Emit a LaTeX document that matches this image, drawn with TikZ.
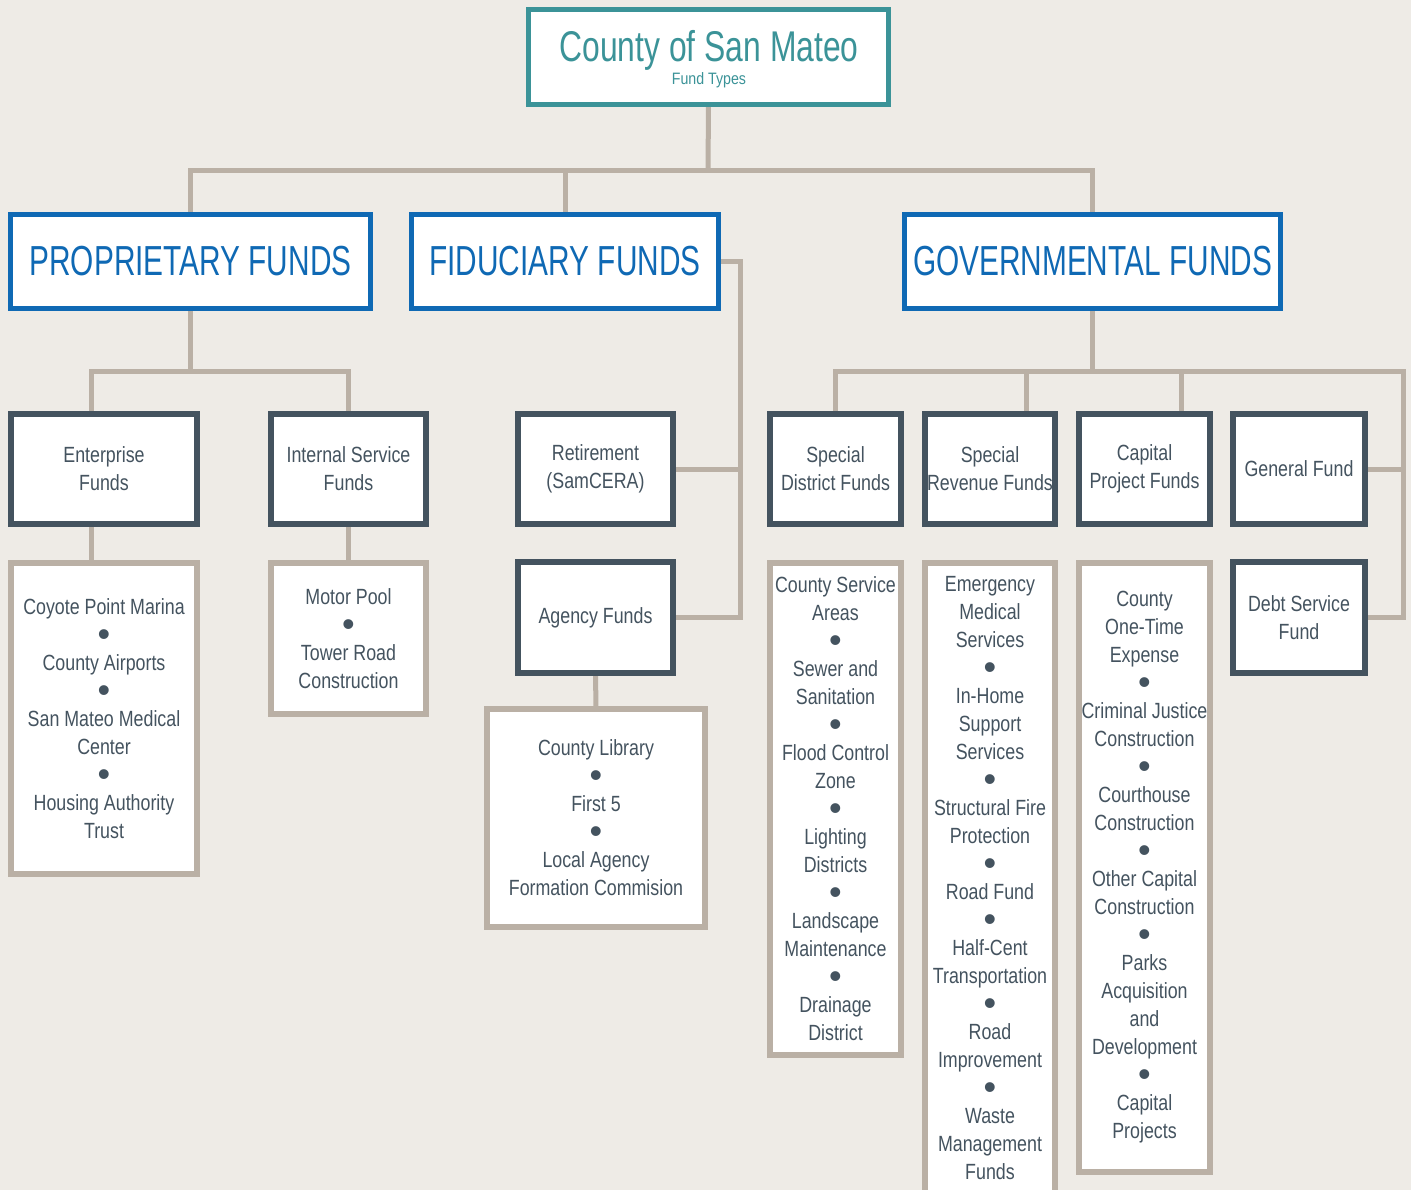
\documentclass[tikz,border=0pt]{standalone}
\usepackage{fontspec}
\newfontfamily\bodyf[FakeStretch=0.81]{Liberation Sans}
\newfontfamily\bigff[FakeStretch=0.71]{Liberation Sans}
\newfontfamily\ttlf[FakeStretch=0.74]{Liberation Sans}
\newfontfamily\subf[FakeStretch=0.86]{Liberation Sans}
\newfontfamily\plainf{Liberation Sans}
\newcommand\bulletdot{{\plainf\fontsize{36}{28}\selectfont\raisebox{-4pt}{•}}}
\definecolor{bgc}{HTML}{EEEBE6}
\definecolor{tealc}{HTML}{3B9398}
\definecolor{bluec}{HTML}{0F69B4}
\definecolor{slatec}{HTML}{44535F}
\definecolor{tanc}{HTML}{BAB0A5}
\pgfdeclarelayer{bgfill}
\pgfdeclarelayer{background}
\pgfsetlayers{bgfill,background,main}
\tikzset{
  topbox/.style={draw=tealc, line width=5pt, fill=white, inner sep=0pt, outer sep=0pt},
  bigbox/.style={draw=bluec, line width=5pt, fill=white, inner sep=0pt, outer sep=0pt,
    minimum height=94pt, text=bluec, font=\bigff\fontsize{42}{48}\selectfont},
  midbox/.style={draw=slatec, line width=6pt, fill=white, inner sep=0pt, outer sep=0pt,
    text=slatec, align=center, font=\bodyf\fontsize{22}{28}\selectfont},
  listbox/.style={draw=tanc, line width=6pt, fill=white, inner sep=0pt, outer sep=0pt,
    text=slatec, align=center, font=\bodyf\fontsize{22}{28}\selectfont},
  conn/.style={draw=tanc, line width=5pt},
  ttltext/.style={anchor=base, text=tealc, inner sep=0pt, font=\ttlf\fontsize{43}{48}\selectfont},
  subtext/.style={anchor=base, text=tealc, inner sep=0pt, font=\subf\fontsize{16.5}{19}\selectfont},
}
\begin{document}
\begin{tikzpicture}[x=1pt,y=-1pt]
\useasboundingbox (0,0) rectangle (1411,1190);
\begin{pgfonlayer}{bgfill}
\fill[bgc] (0,0) rectangle (1411,1190);
\end{pgfonlayer}

% top
\node[topbox, minimum width=360pt, minimum height=95pt] (top) at (708.5,57) {};
\node[ttltext] (ttl) at (709,62) {County of San Mateo};
\node[subtext] (sub) at (709,85) {Fund Types};

% level 2
\node[bigbox, minimum width=360pt] (prop) at (190.5,261.5) {PROPRIETARY FUNDS};
\node[bigbox, minimum width=307pt] (fid) at (565,261.5) {FIDUCIARY FUNDS};
\node[bigbox, minimum width=376pt] (gov) at (1092.5,261.5) {GOVERNMENTAL FUNDS};

% level 3
\node[midbox, minimum width=186pt, minimum height=110pt] (ent) at (104,469) {Enterprise\\Funds};
\node[midbox, minimum width=155pt, minimum height=110pt] (int) at (348.5,469) {Internal Service\\Funds};
\node[midbox, minimum width=155pt, minimum height=110pt] (ret) at (595.5,469) {Retirement\\(SamCERA)};
\node[midbox, minimum width=155pt, minimum height=111pt] (agency) at (595.5,617.5) {Agency Funds};
\node[midbox, minimum width=131pt, minimum height=110pt] (sd) at (835.5,469) {Special\\District Funds};
\node[midbox, minimum width=130pt, minimum height=110pt] (sr) at (990,469) {Special\\Revenue Funds};
\node[midbox, minimum width=131pt, minimum height=110pt] (cp) at (1144.5,469) {Capital\\Project Funds};
\node[midbox, minimum width=132pt, minimum height=110pt] (gf) at (1299,469) {General Fund};
\node[midbox, minimum width=132pt, minimum height=111pt] (ds) at (1299,617.5) {Debt Service\\Fund};

% level 4
\node[listbox, minimum width=186pt, minimum height=311pt] (entlist) at (104,718.5)
  {Coyote Point Marina\\\bulletdot\\County Airports\\\bulletdot\\San Mateo Medical\\Center\\\bulletdot\\Housing Authority\\Trust};
\node[listbox, minimum width=155pt, minimum height=151pt] (motor) at (348.5,638.5)
  {Motor Pool\\\bulletdot\\Tower Road\\Construction};
\node[listbox, minimum width=218pt, minimum height=218pt] (agencylist) at (596,818)
  {County Library\\\bulletdot\\First 5\\\bulletdot\\Local Agency\\Formation Commision};
\node[listbox, minimum width=131pt, minimum height=492pt] (csa) at (835.5,809)
  {County Service\\Areas\\\bulletdot\\Sewer and\\Sanitation\\\bulletdot\\Flood Control\\Zone\\\bulletdot\\Lighting\\Districts\\\bulletdot\\Landscape\\Maintenance\\\bulletdot\\Drainage\\District};
\node[listbox, minimum width=130pt, minimum height=631pt] (ems) at (990,878.5)
  {Emergency\\Medical\\Services\\\bulletdot\\In-Home\\Support\\Services\\\bulletdot\\Structural Fire\\Protection\\\bulletdot\\Road Fund\\\bulletdot\\Half-Cent\\Transportation\\\bulletdot\\Road\\Improvement\\\bulletdot\\Waste\\Management\\Funds};
\node[listbox, minimum width=131pt, minimum height=609pt] (cpl) at (1144.5,867.5)
  {County\\One-Time\\Expense\\\bulletdot\\Criminal Justice\\Construction\\\bulletdot\\Courthouse\\Construction\\\bulletdot\\Other Capital\\Construction\\\bulletdot\\Parks\\Acquisition\\and\\Development\\\bulletdot\\Capital\\Projects};

% junction coordinates
\coordinate (j1) at (708,171);
\coordinate (j2) at (193,371);
\coordinate (j3) at (1090,371);
\coordinate (fx) at (740,262);
\coordinate (gx) at (1403,371);

\begin{pgfonlayer}{background}
\draw[conn] (top.south) -- (j1);
\draw[conn] (prop.north) |- (j1) -| (gov.north);
\draw[conn] (fid.north) -- (fid.north |- j1);

\draw[conn] (prop.south) -- (prop.south |- j2);
\draw[conn] ([xshift=-13pt]ent.north) |- (int.north |- j2) -- (int.north);
\draw[conn] ([xshift=-13pt]ent.south) -- ([xshift=-13pt]entlist.north);
\draw[conn] (int.south) -- (motor.north);

\draw[conn] (fid.east) -- (fid.east -| fx) |- (agency.east);
\draw[conn] (ret.east) -- (ret.east -| fx);
\draw[conn] (agency.south) -- (agencylist.north);

\draw[conn] (gov.south) -- (gov.south |- j3);
\draw[conn] (sd.north) |- (gx) |- (ds.east);
\draw[conn] ([xshift=36pt]sr.north) -- ([xshift=36pt]sr.north |- j3);
\draw[conn] ([xshift=36.5pt]cp.north) -- ([xshift=36.5pt]cp.north |- j3);
\draw[conn] (gf.east) -- (gf.east -| gx);
\end{pgfonlayer}
\end{tikzpicture}
\end{document}
